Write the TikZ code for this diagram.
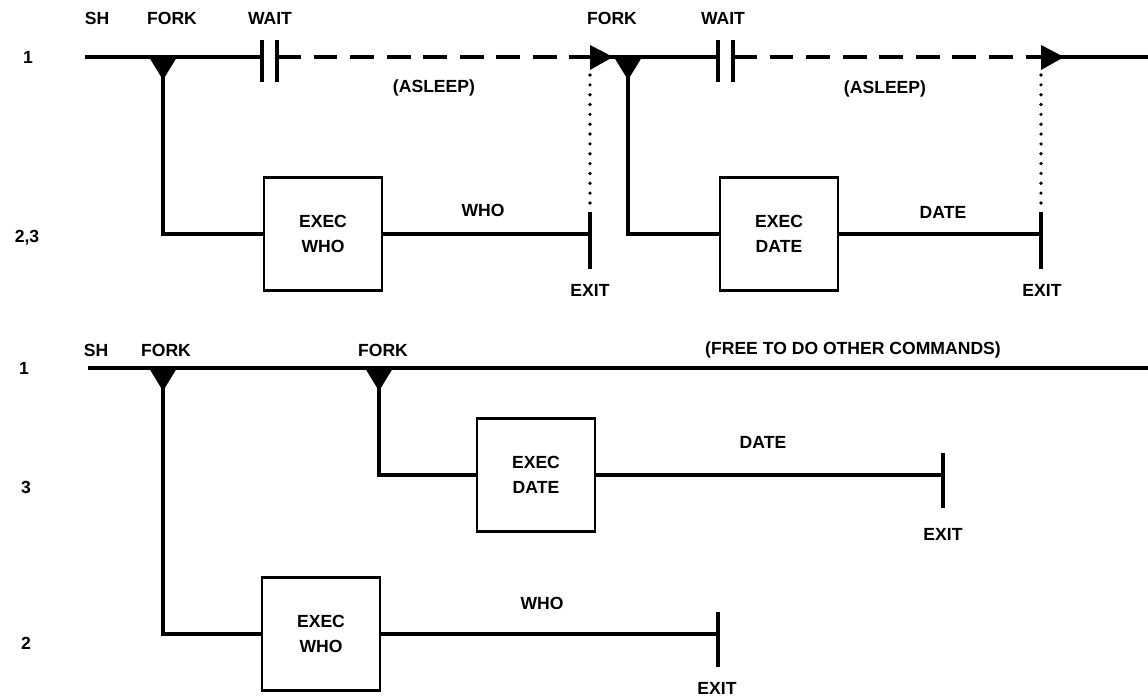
\documentclass[tikz,border=0pt]{standalone}
\usepackage{fontspec}
\setmainfont{Liberation Sans}
\usepackage{tikz}
\usetikzlibrary{calc}
\tikzset{
    lane/.style={line width=2.5pt},
    asleep/.style={lane, dash pattern=on 17pt off 9pt},
    wakeup/.style={line width=2.6pt, line cap=round, dash pattern=on 0pt off 7pt},
    txt/.style={font=\bfseries\fontsize{12.5}{18}\selectfont, inner sep=0pt},
    execbox/.style={
        draw,
        line width=2pt,
        minimum width=2.95cm,
        minimum height=2.82cm,
        align=center,
        font=\bfseries\fontsize{12.5}{18}\selectfont
    },
    forkmark/.pic={\fill (-14,0) -- (14,0) -- (0,23) -- cycle;},
    wakemark/.pic={\fill (0,-12) -- (23,0) -- (0,13) -- cycle;}
}

\begin{document}
\begin{tikzpicture}[x=0.025cm, y=-0.025cm]
    \useasboundingbox (0,0) rectangle (1148,698);

    % sequential: sh waits for each command
    \node[txt] (sh1) at (97,18) {SH};
    \node[txt] (forklbl1) at (172,18) {FORK};
    \node[txt] (waitlbl1) at (270,18) {WAIT};
    \node[txt] (forklbl2) at (612,18) {FORK};
    \node[txt] (waitlbl2) at (723,18) {WAIT};
    \node[txt] (pid1) at (28,57) {1};
    \node[txt] (pid23) at (27,238) {2,3};

    \coordinate (start1) at (85,57);
    \coordinate (fork1) at (163,57);
    \coordinate (wait1) at (262,57);
    \coordinate (resume1) at (277,57);
    \coordinate (wake1) at (590,57);
    \coordinate (fork2) at (628,57);
    \coordinate (wait2) at (718,57);
    \coordinate (resume2) at (733,57);
    \coordinate (wake2) at (1041,57);
    \coordinate (end1) at (1148,57);

    \node[execbox] (execwho1) at (323,234) {EXEC\\WHO};
    \node[execbox] (execdate1) at (779,234) {EXEC\\DATE};
    \coordinate (exit1) at (590,234);
    \coordinate (exit2) at (1041,234);

    \node[txt] (who1) at (483,210) {WHO};
    \node[txt] (date1) at (943,212) {DATE};
    \node[txt] (exitlbl1) at (590,290) {EXIT};
    \node[txt] (exitlbl2) at (1042,290) {EXIT};
    \node[txt] (asleep1) at (434,88) {(ASLEEP)};
    \node[txt] (asleep2) at (885,89) {(ASLEEP)};

    \draw[lane] (start1) -- (wait1);
    \draw[asleep] (resume1) -- (wake1);
    \draw[lane] (wake1) -- (wait2);
    \draw[asleep] (resume2) -- (wake2);
    \draw[lane] (wake2) -- (end1);
    \foreach \w in {wait1,resume1,wait2,resume2}
        \draw[lane] (\w) ++(0,-17) -- ++(0,42);
    \pic at (wake1) {wakemark};
    \pic at (wake2) {wakemark};

    \draw[lane] (fork1) |- (execwho1);
    \draw[lane] (execwho1) -- (exit1);
    \draw[lane] (fork2) |- (execdate1);
    \draw[lane] (execdate1) -- (exit2);
    \foreach \e in {exit1,exit2} {
        \draw[lane] ($(\e)+(0,-22)$) -- ($(\e)+(0,35)$);
    }
    \draw[wakeup] ($(wake1)+(0,18)$) -- ($(exit1)+(0,-25)$);
    \draw[wakeup] ($(wake2)+(0,18)$) -- ($(exit2)+(0,-25)$);

    % background: sh goes on at once
    \node[txt] (sh2) at (96,350) {SH};
    \node[txt] (forklbl3) at (166,350) {FORK};
    \node[txt] (forklbl4) at (383,350) {FORK};
    \node[txt] (free) at (853,350) {(FREE TO DO OTHER COMMANDS)};
    \node[txt] (pid1b) at (24,368) {1};
    \node[txt] (pid3) at (26,487) {3};
    \node[txt] (pid2) at (26,643) {2};

    \coordinate (start2) at (88,368);
    \coordinate (fork3) at (163,368);
    \coordinate (fork4) at (379,368);
    \coordinate (end2) at (1148,368);

    \node[execbox] (execdate2) at (536,475) {EXEC\\DATE};
    \node[execbox] (execwho2) at (321,634) {EXEC\\WHO};
    \coordinate (exit3) at (943,475);
    \coordinate (exit4) at (718,634);

    \node[txt] (date2) at (763,442) {DATE};
    \node[txt] (who2) at (542,603) {WHO};
    \node[txt] (exitlbl3) at (943,534) {EXIT};
    \node[txt] (exitlbl4) at (717,688) {EXIT};

    \draw[lane] (start2) -- (end2);
    \draw[lane] (fork4) |- (execdate2);
    \draw[lane] (execdate2) -- (exit3);
    \draw[lane] (fork3) |- (execwho2);
    \draw[lane] (execwho2) -- (exit4);
    \foreach \e in {exit3,exit4} {
        \draw[lane] ($(\e)+(0,-22)$) -- ($(\e)+(0,33)$);
    }

    \foreach \f in {fork1,fork2,fork3,fork4}
        \pic at (\f) {forkmark};
\end{tikzpicture}
\end{document}
